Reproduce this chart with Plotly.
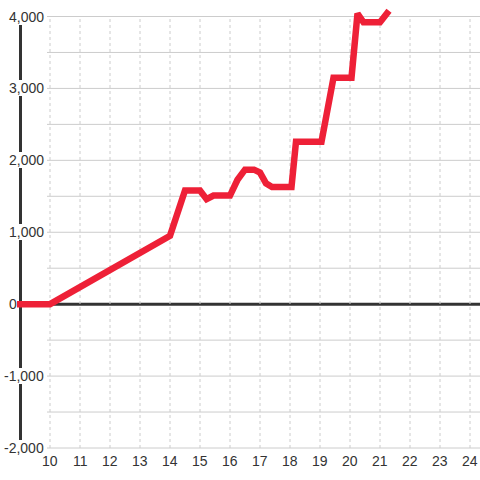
import plotly.graph_objects as go

# ---- data ----
hours = [8.9, 10, 14, 14.5, 15, 15.22, 15.45, 16, 16.25, 16.5, 16.8, 17, 17.2, 17.4,
         18.05, 18.2, 19.05, 19.45, 20.05, 20.25, 20.45, 21, 21.3]
values = [0, 0, 950, 1580, 1580, 1460, 1510, 1510, 1730, 1870, 1870, 1830, 1680, 1630,
          1630, 2260, 2260, 3150, 3150, 4040, 3920, 3920, 4080]

x_ticks = list(range(10, 25))
x_tick_labels = [str(v) for v in x_ticks]
y_ticks = [4000, 3000, 2000, 1000, 0, -1000, -2000]
y_tick_labels = ["4,000", "3,000", "2,000", "1,000", "0", "-1,000", "-2,000"]
y_grid = [v for v in range(-2000, 4001, 500)]

W = H = 480
X0, X1 = 10 - 50 / 30, 10 + 430 / 30
PX_PER_K = (448 - 16.5) / 6
Y1 = 4000 + 16.5 / PX_PER_K * 1000
Y0 = -2000 - (H - 448) / PX_PER_K * 1000

TEXT = "#333333"
GRID = "#cccccc"
FONT = "Liberation Sans, Arial, sans-serif"

fig = go.Figure()
fig.add_trace(go.Scatter(
    x=hours, y=values, mode="lines",
    line=dict(color="#ee2037", width=6.5),
    hoverinfo="skip", showlegend=False,
))

shapes = []
# horizontal grid lines (start at label edge)
for v in y_grid:
    if v == 0:
        continue
    shapes.append(dict(type="line", xref="paper", yref="y", x0=47 / W, x1=1, y0=v, y1=v,
                       line=dict(color=GRID, width=1), layer="below"))
# vertical dotted grid lines
for v in x_ticks:
    shapes.append(dict(type="line", xref="x", yref="y", x0=v, x1=v, y0=-2000, y1=4000,
                       line=dict(color=GRID, width=1, dash="dot"), layer="below"))
# zero line
shapes.append(dict(type="line", xref="paper", yref="y", x0=19 / W, x1=1, y0=0, y1=0,
                   line=dict(color=TEXT, width=3), layer="below"))
# y axis line
shapes.append(dict(type="line", xref="paper", yref="y", x0=20.5 / W, x1=20.5 / W, y0=-2000, y1=4000,
                   line=dict(color=TEXT, width=3), layer="below"))

annotations = []
for v, t in zip(y_ticks, y_tick_labels):
    right_px = 17 if v == 0 else 44
    annotations.append(dict(xref="paper", yref="y", x=right_px / W, y=v, text=t,
                            xanchor="right", yanchor="middle", showarrow=False,
                            bgcolor="white" if v != 0 else "rgba(0,0,0,0)",
                            borderpad=0, borderwidth=0,
                            font=dict(family=FONT, size=14, color=TEXT)))
for v, t in zip(x_ticks, x_tick_labels):
    annotations.append(dict(xref="x", yref="paper", x=v, y=1 - 461 / H, text=t,
                            xanchor="center", yanchor="middle", showarrow=False,
                            font=dict(family=FONT, size=14, color=TEXT)))

fig.update_layout(
    width=W, height=H,
    margin=dict(l=0, r=0, t=0, b=0),
    paper_bgcolor="white", plot_bgcolor="white",
    xaxis=dict(range=[X0, X1], visible=False, fixedrange=True),
    yaxis=dict(range=[Y0, Y1], visible=False, fixedrange=True),
    shapes=shapes, annotations=annotations,
    showlegend=False,
)

fig.write_html("out.html", config={"staticPlot": True},
               post_script="document.body.style.margin='0';document.body.style.overflow='hidden';")
